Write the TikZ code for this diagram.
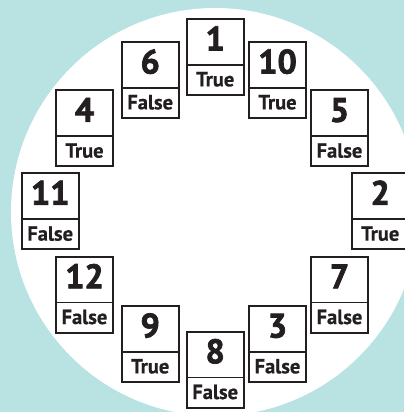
\documentclass[tikz,border=0pt]{standalone}
\usepackage{fontspec}
\setmainfont{PT Sans}
\newfontfamily\numfont{PT Sans Bold}[FakeBold=2.2]
\newfontfamily\valfont{PT Sans Bold}[FakeBold=0.6]
\definecolor{bgteal}{RGB}{185,226,227}
\definecolor{ink}{RGB}{35,31,32}
\tikzset{
  numbox/.style={draw=ink, line width=1.7pt, fill=white, rectangle, inner sep=0pt, outer sep=0pt,
    minimum width=57pt, minimum height=45.7pt, text=ink,
    font=\fontsize{34pt}{34pt}\numfont, text height=24pt, text depth=6.6pt},
  valbox/.style={draw=ink, line width=1.7pt, fill=white, rectangle, inner sep=0pt, outer sep=0pt,
    minimum width=57pt, minimum height=30.3pt, text=ink,
    font=\fontsize{20.5pt}{20.5pt}\valfont, text height=15pt, text depth=2pt}
}
\newcommand\mycard[5]{%
  \node[numbox, anchor=north west] (n#1) at (#2,#3) {#4};
  \node[valbox, anchor=north] (v#1) at (n#1.south) {#5};
}
\begin{document}
\begin{tikzpicture}[x=1pt,y=-1pt]
\useasboundingbox (0,0) rectangle (404,412);
\fill[bgteal] (0,0) rectangle (404,412);
\fill[white] (215,212) circle[radius=204pt];
\mycard{1}{186.7}{19}{1}{True}
\mycard{6}{121.7}{42}{6}{False}
\mycard{10}{249}{42}{10}{True}
\mycard{4}{56}{90.3}{4}{True}
\mycard{5}{311}{90.3}{5}{False}
\mycard{11}{21.7}{173.3}{11}{False}
\mycard{2}{351.7}{173.3}{2}{True}
\mycard{12}{56}{256.7}{12}{False}
\mycard{7}{311}{256.7}{7}{False}
\mycard{9}{121.7}{306}{9}{True}
\mycard{3}{249}{306}{3}{False}
\mycard{8}{186.7}{331.7}{8}{False}
\end{tikzpicture}
\end{document}
